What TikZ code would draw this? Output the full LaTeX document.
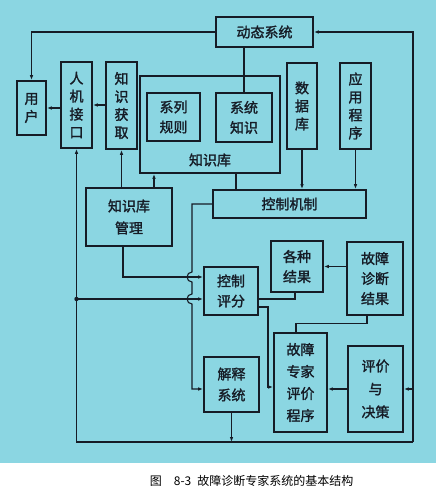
\documentclass[tikz,border=0pt]{standalone}
\usepackage{fontspec}
\setmainfont{Noto Sans CJK SC}
\newfontfamily\boxfont{Noto Sans CJK SC}[FakeBold=1.6]
\usetikzlibrary{arrows.meta,positioning}
\definecolor{bgcyan}{RGB}{139,214,226}
\definecolor{ink}{RGB}{22,28,38}

\begin{document}
\begin{tikzpicture}[x=1pt, y=-1pt, line width=1.1pt, >={Latex[length=5pt,width=3.5pt]},
    box/.style={draw=ink, line width=1.7pt, align=center, inner sep=0pt, text=ink, font=\boxfont\fontsize{14}{18}\selectfont}]
    \fill[bgcyan] (0,0) rectangle (436,463);
    \fill[white] (0,463) rectangle (436,494);
    \useasboundingbox (0,0) rectangle (436,494);

    % upper row
    \node[box, minimum width=97pt, minimum height=30pt] (dyn) at (264.5,32) {动态系统};
    \node[box, minimum width=29pt, minimum height=54pt] (user) at (31.5,108) {用\\户};
    \node[box, minimum width=31pt, minimum height=86pt] (hmi) at (76.5,105) {人\\机\\接\\口};
    \node[box, minimum width=31pt, minimum height=87pt] (acq) at (121.5,105.5) {知\\识\\获\\取};
    \node[box, minimum width=140pt, minimum height=97pt] (kb) at (210,124.5) {};
    \node[text=ink, font=\boxfont\fontsize{14}{18}\selectfont] (kblabel) at (210,160) {知识库};
    \node[box, minimum width=53pt, minimum height=48pt, font=\boxfont\fontsize{14}{20}\selectfont] (rules) at (173.5,117) {系列\\规则};
    \node[box, minimum width=56pt, minimum height=49pt, font=\boxfont\fontsize{14}{20}\selectfont] (sysk) at (244,117.5) {系统\\知识};
    \node[box, minimum width=30pt, minimum height=86pt] (db) at (302,106) {数\\据\\库};
    \node[box, minimum width=31pt, minimum height=86pt] (app) at (355.5,106) {应\\用\\程\\序};

    % middle
    \node[box, minimum width=153pt, minimum height=28pt] (ctrl) at (289.5,204) {控制机制};
    \node[box, minimum width=86pt, minimum height=58pt, font=\boxfont\fontsize{14}{22}\selectfont] (kbm) at (129,217) {知识库\\管理};
    \node[box, minimum width=54pt, minimum height=48pt, font=\boxfont\fontsize{14}{20}\selectfont] (score) at (231,291) {控制\\评分};
    \node[box, minimum width=52pt, minimum height=51pt, font=\boxfont\fontsize{14}{20}\selectfont] (res) at (297,266.5) {各种\\结果};
    \node[box, minimum width=56pt, minimum height=73pt, font=\boxfont\fontsize{14}{20}\selectfont] (diag) at (375,278.5) {故障\\诊断\\结果};

    % lower
    \node[box, minimum width=53pt, minimum height=99pt, font=\boxfont\fontsize{14}{22}\selectfont] (eval) at (300.5,382.5) {故障\\专家\\评价\\程序};
    \node[box, minimum width=55pt, minimum height=86pt, font=\boxfont\fontsize{14}{23}\selectfont] (dec) at (375.5,389) {评价\\与\\决策};
    \node[box, minimum width=55pt, minimum height=55pt, font=\boxfont\fontsize{14}{21}\selectfont] (expl) at (231.5,384.5) {解释\\系统};

    \node[text=black, anchor=west, font=\fontsize{12}{14}\selectfont] (cap) at (146,481) {图\quad 8-3\; 故障诊断专家系统的基本结构};

    \coordinate (rc) at (413,442);
    \coordinate (lc) at (hmi.south |- rc);
    \coordinate (dot) at (76.5,299);

    \begin{scope}[draw=ink]
    % outer loop
    \draw[->] (dyn.west) -| (user.north);
    \draw[->] (rc) |- (dyn.east);
    \draw[->] (rc) -- (lc) -- (hmi.south);
    \draw[->] (dec.east -| rc) -- (dec.east);
    \draw[->] (expl.south) -- (expl.south |- rc);
    \draw[->] (hmi.west |- user.east) -- (user.east);
    \draw[->] (acq.west |- hmi.east) -- (hmi.east);

    % knowledge base
    \draw[->] (acq.south |- kbm.north) -- (acq.south);
    \draw[->] ([xshift=25pt]kbm.north) -- ([xshift=25pt]kbm.north |- kb.south);
    \draw (sysk.north) -- (sysk.north |- dyn.south);
    \draw ([xshift=26pt]kb.south) -- ([xshift=26pt]kb.south |- ctrl.north);
    \draw[->] (db.south) -- (db.south |- ctrl.north);
    \draw[->] (app.south) -- (app.south |- ctrl.north);

    % control line with hops
    \draw[->] (ctrl.west) -- (192,204) -- (192,272)
        arc[start angle=90, end angle=270, radius=5pt] -- (192,294)
        arc[start angle=90, end angle=270, radius=5pt] -- (192,389) -- (expl.west |- 0,389);
    \draw[->] ([xshift=-6pt]kbm.south) |- (score.west |- 0,277);
    \fill[ink] (dot) circle (2.2pt);
    \draw[->] (dot) -- (score.west |- dot);

    % results
    \draw (score.east |- dot) -| ([xshift=-2pt]res.south);
    \draw[->] (score.east |- 0,307) -- (268,307) -- (268,387) -- (eval.west |- 0,387);
    \draw[->] (diag.west |- res.east) -- (res.east);
    \draw ([xshift=-8pt]diag.south) -- ++(0,8) -| ([xshift=-4.5pt]eval.north);
    \draw[->] (dec.west) -- (dec.west -| eval.east);
    \end{scope}
\end{tikzpicture}
\end{document}
